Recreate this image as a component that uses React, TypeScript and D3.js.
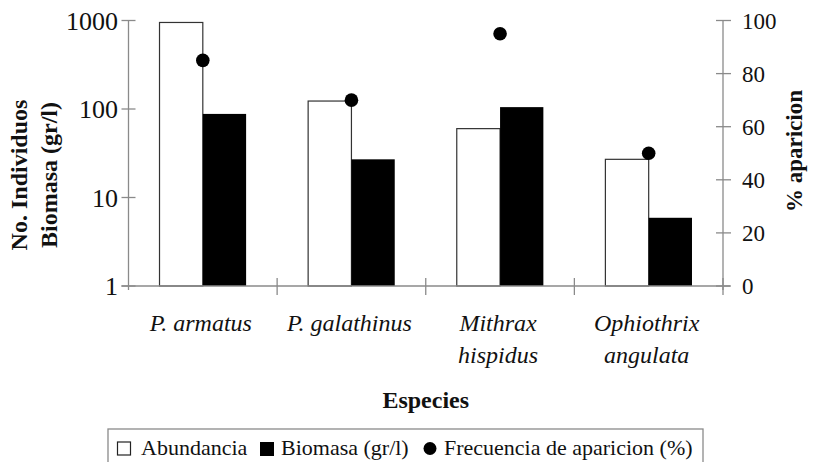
import React from "react";
import * as d3 from "d3";

const species = ["P. armatus", "P. galathinus", "Mithrax hispidus", "Ophiothrix angulata"];
const speciesLines = [["P. armatus"], ["P. galathinus"], ["Mithrax", "hispidus"], ["Ophiothrix", "angulata"]];
const abundancia = [950, 123, 60, 27];
const biomasa = [88, 27, 105, 5.9];
const frecuencia = [85, 70, 95, 50];
const leftTicks = [1, 10, 100, 1000];
const rightTicks = [0, 20, 40, 60, 80, 100];

const FONT = "Liberation Serif, Times New Roman, Times, serif";
const AXIS = "#8a8a8a";

export default function App() {
  const left = 128.5, right = 723, top = 20.5, bottom = 286;
  const x = d3.scaleBand<string>().domain(species).range([left, right]).paddingInner(0).paddingOuter(0);
  const yL = d3.scaleLog().domain([1, 1000]).range([bottom, top]);
  const yR = d3.scaleLinear().domain([0, 100]).range([bottom, top]);
  const bw = 43.3;
  const boundaries = species.map((s) => (x(s) as number) + x.bandwidth());
  const txt = { fontFamily: FONT, fill: "#111" } as React.CSSProperties;

  return (
    <svg width={814} height={462} style={{ position: "absolute", left: 0, top: 0, background: "#fff", fontFamily: FONT }}>
      <rect x={0} y={0} width={814} height={462} fill="#fff" />
      {species.map((s, i) => {
        const c = (x(s) as number) + x.bandwidth() / 2;
        return (
          <g key={s}>
            <rect x={c - bw} y={yL(abundancia[i])} width={bw} height={bottom - yL(abundancia[i])} fill="#fff" stroke="#333" strokeWidth={1.2} />
            <rect x={c} y={yL(biomasa[i])} width={bw} height={bottom - yL(biomasa[i])} fill="#000" />
          </g>
        );
      })}
      <line x1={left} x2={left} y1={top} y2={bottom + 4} stroke={AXIS} strokeWidth={1.3} />
      <line x1={right} x2={right} y1={top} y2={bottom + 4} stroke={AXIS} strokeWidth={1.3} />
      <line x1={left - 7} x2={right + 7} y1={bottom} y2={bottom} stroke={AXIS} strokeWidth={1.3} />
      {leftTicks.map((t) => (
        <g key={t}>
          <line x1={left - 7} x2={left + 7} y1={yL(t)} y2={yL(t)} stroke={AXIS} strokeWidth={1.3} />
          <text x={118} y={yL(t)} dy="0.35em" textAnchor="end" fontSize={26} style={txt}>{t}</text>
        </g>
      ))}
      {rightTicks.map((t) => (
        <g key={t}>
          <line x1={right - 7} x2={right + 8} y1={yR(t)} y2={yR(t)} stroke={AXIS} strokeWidth={1.3} />
          <text x={742} y={yR(t)} dy="0.35em" textAnchor="start" fontSize={23} style={txt}>{t}</text>
        </g>
      ))}
      {boundaries.map((b, i) => (
        <line key={i} x1={b} x2={b} y1={bottom - 8} y2={bottom + 9} stroke={AXIS} strokeWidth={1.3} />
      ))}
      {species.map((s, i) => {
        const c = (x(s) as number) + x.bandwidth() / 2;
        return <circle key={s} cx={c} cy={yR(frecuencia[i])} r={6.8} fill="#000" />;
      })}
      {species.map((s, i) => {
        const c = (x(s) as number) + x.bandwidth() / 2 - 2;
        return (
          <text key={s} x={c} textAnchor="middle" fontStyle="italic" fontSize={24} style={txt}>
            {speciesLines[i].map((l, j) => (
              <tspan key={j} x={c} y={331 + j * 32}>{l}</tspan>
            ))}
          </text>
        );
      })}
      <text x={(left + right) / 2} y={408} textAnchor="middle" fontWeight="bold" fontSize={24} style={txt}>Especies</text>
      <g transform="translate(27,175) rotate(-90)">
        <text x={0} y={0} textAnchor="middle" fontWeight="bold" fontSize={24} style={txt}>No. Individuos</text>
        <text x={0} y={30} textAnchor="middle" fontWeight="bold" fontSize={24} style={txt}>Biomasa (gr/l)</text>
      </g>
      <g transform="translate(802,151) rotate(-90)">
        <text x={0} y={0} textAnchor="middle" fontWeight="bold" fontSize={23} style={txt}>% aparicion</text>
      </g>
      <rect x={108} y={429} width={595} height={45} fill="none" stroke={AXIS} strokeWidth={1.3} />
      <rect x={117.5} y={442} width={13} height={13} fill="#fff" stroke="#222" strokeWidth={1.2} />
      <text x={141} y={455} fontSize={22} style={txt}>Abundancia</text>
      <rect x={260} y={442} width={14} height={14} fill="#000" />
      <text x={281} y={455} fontSize={22} style={txt}>Biomasa (gr/l)</text>
      <circle cx={430} cy={448.5} r={6.5} fill="#000" />
      <text x={444} y={455} fontSize={22} style={txt}>Frecuencia de aparicion (%)</text>
    </svg>
  );
}
